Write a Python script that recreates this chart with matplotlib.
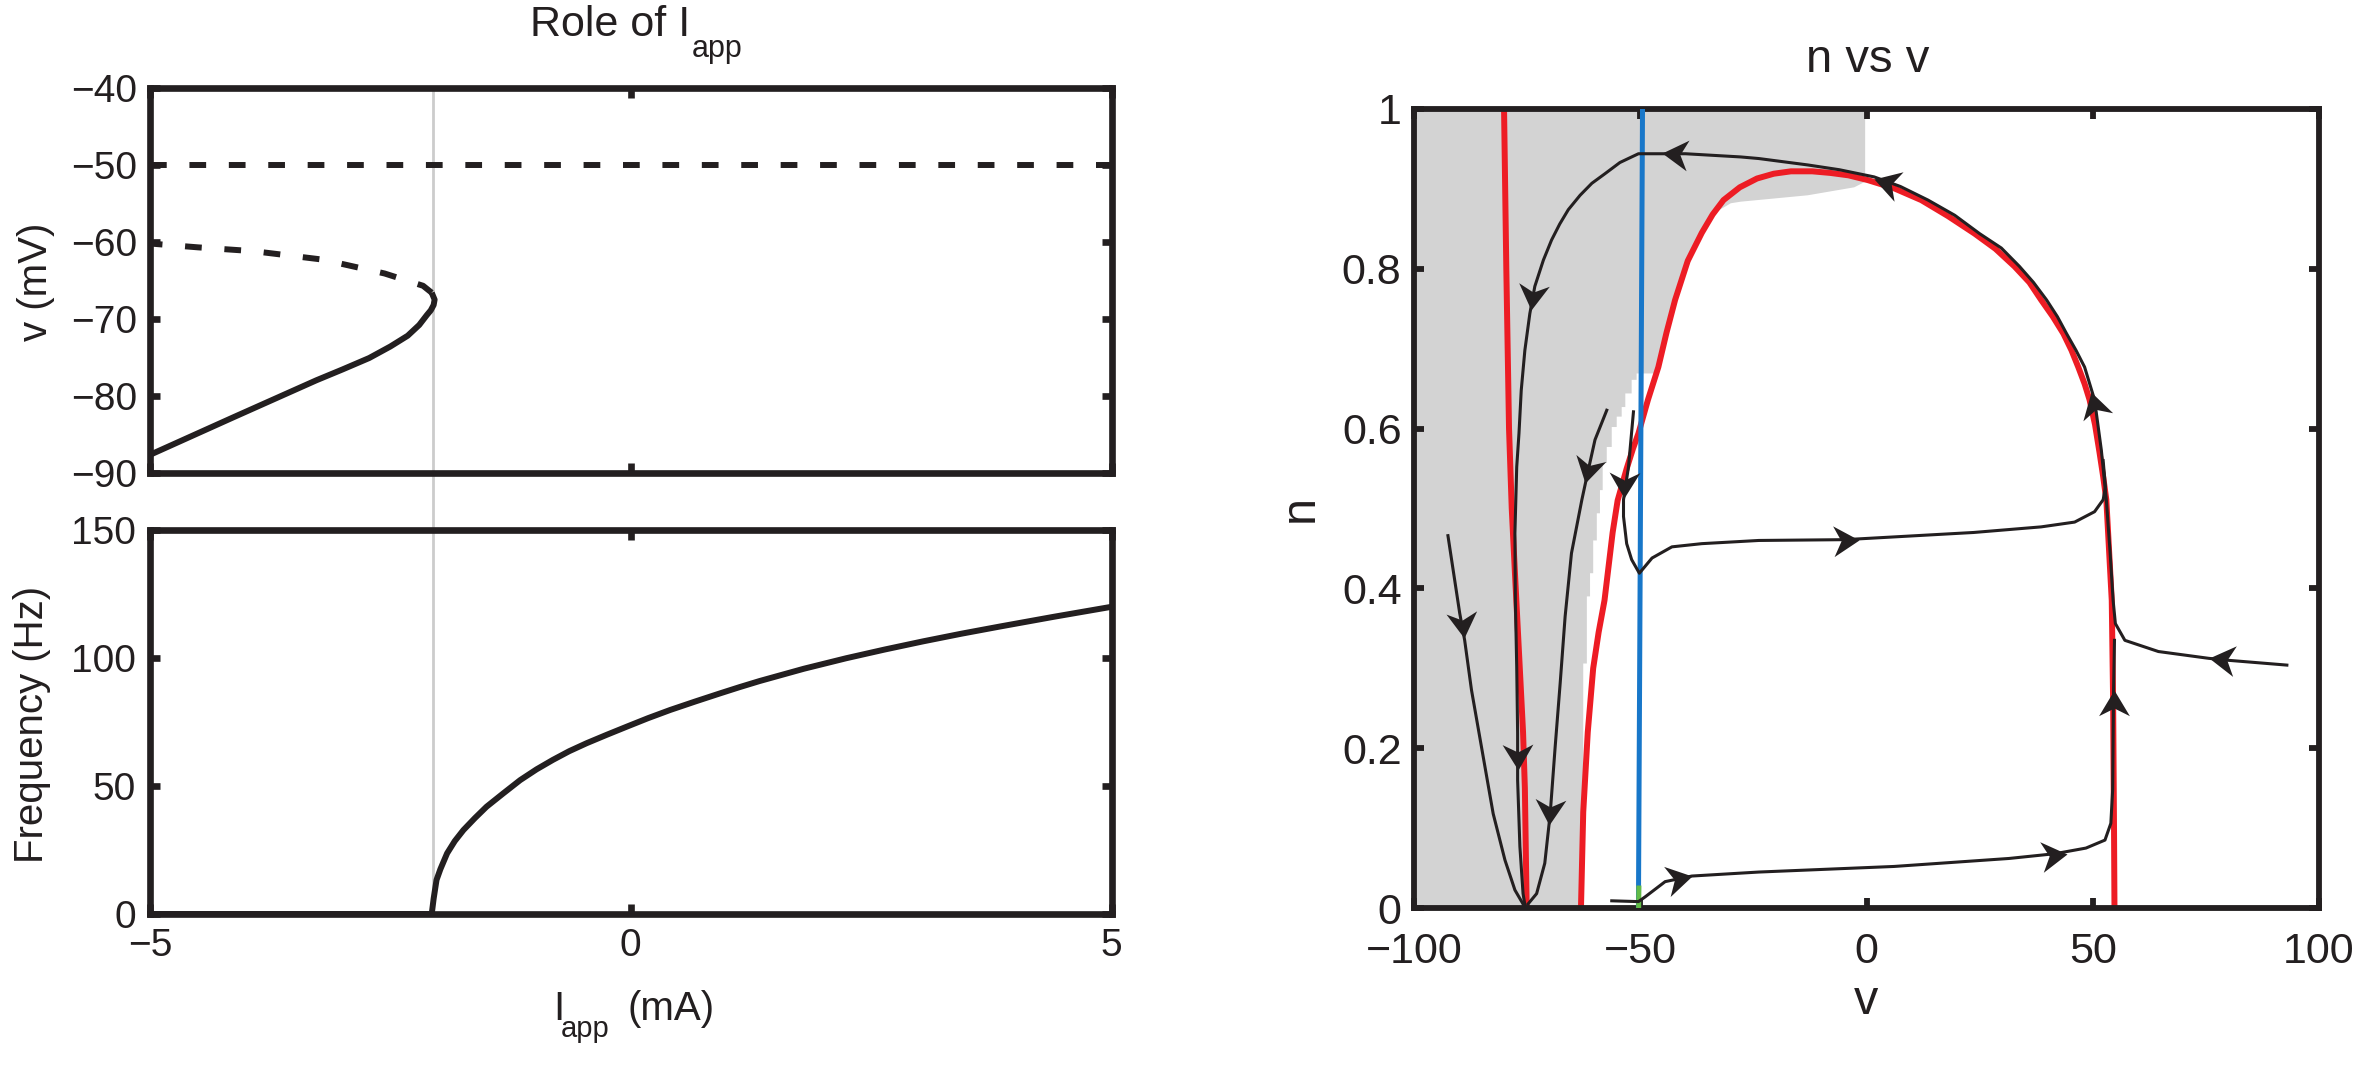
import numpy as np
import matplotlib
matplotlib.use('Agg')
import matplotlib.pyplot as plt
from matplotlib.path import Path
from matplotlib.markers import MarkerStyle
from matplotlib.transforms import Affine2D

plt.rcParams['font.family'] = ['Liberation Sans', 'DejaVu Sans']
plt.rcParams['axes.unicode_minus'] = True

ink = '#231f20'

# ---- left panels: role of I_app ----
i_sn = -2.06  # saddle-node (gray vertical line)

rest_i = [-5, -4.13, -3.27, -3.0, -2.72, -2.5, -2.32, -2.2, -2.12, -2.08, -2.05, -2.04, -2.07]
rest_v = [-87.7, -82.8, -78.0, -76.6, -75.1, -73.6, -72.2, -70.8, -69.5, -68.9, -68.2, -67.5, -66.6]
saddle_i = [-2.07, -2.16, -2.56, -3.2, -3.92, -4.5, -5]
saddle_v = [-66.6, -65.7, -64.1, -62.3, -61.2, -60.7, -60.2]
upper_i = [-5, 5]
upper_v = [-50, -50]

freq_i = [-5, -2.07, -2.05, -2.02, -1.98, -1.91, -1.83, -1.74, -1.62, -1.50, -1.33,
          -1.15, -0.98, -0.81, -0.64, -0.46, -0.25, -0.04, 0.18, 0.41, 0.67, 0.93,
          1.13, 1.34, 1.8, 2.24, 2.64, 3.04, 3.44, 3.84, 4.4, 5.0]
freq_f = [0, 0, 6, 13.3, 17.5, 23.7, 28.5, 32.8, 37.5, 41.9, 47.0,
          52.3, 56.5, 60.2, 63.6, 66.7, 70.0, 73.2, 76.5, 79.7, 83.0, 86.2,
          88.6, 91.0, 95.8, 99.9, 103.3, 106.5, 109.5, 112.3, 116.1, 120.0]

# ---- right panel: n vs v phase plane ----
vnull_left_v = [-80.1, -79.6, -79.0, -78.4, -77.7, -76.8, -75.9, -75.5, -75.1]
vnull_left_n = [1.0, 0.8, 0.6, 0.5, 0.42, 0.32, 0.22, 0.15, 0.0]
vnull_arch_v = [-63.1, -62.6, -61.6, -60.4, -59.2, -57.9, -56.1, -55.0, -53.0, -51.6,
                -50.4, -48.3, -46.0, -44.2, -42.3, -39.5, -36.4, -34.0, -31.6, -28.0,
                -24.2, -20.5, -16.7, -12.0, -8.0, -4.0, 0.3, 6.0, 12.1, 18.0,
                23.9, 28.5, 32.7, 36.0, 38.6, 41.2, 43.5, 45.3, 46.8, 48.2,
                49.3, 50.5, 51.5, 52.3, 53.0, 54.2, 54.5, 54.7, 54.8]
vnull_arch_n = [0.0, 0.12, 0.22, 0.30, 0.345, 0.385, 0.47, 0.51, 0.55, 0.575,
                0.594, 0.636, 0.677, 0.72, 0.761, 0.81, 0.845, 0.868, 0.886, 0.902,
                0.913, 0.919, 0.922, 0.922, 0.92, 0.917, 0.911, 0.901, 0.886, 0.866,
                0.844, 0.825, 0.803, 0.783, 0.761, 0.74, 0.719, 0.698, 0.677, 0.656,
                0.636, 0.605, 0.57, 0.54, 0.511, 0.385, 0.26, 0.1, 0.0]
nnull_v = [-50.4, -49.5]
nnull_n = [0.0, 1.0]
fixed_v = [-50.35, -50.3]
fixed_n = [0.0, 0.025]

basin_v = [-100, -62.6, -62.6, -61.8, -61.8, -61.1, -61.1, -60.4, -60.4, -59.6, -59.6,
           -58.9, -58.9, -58.3, -58.3, -57.4, -57.4, -56.3, -56.3, -55.2, -55.2,
           -54.1, -54.1, -53.3, -53.3, -51.9, -51.9, -50.8, -50.8, -46.4, -46.0,
           -42.3, -36.4, -33.0, -30.0, -27.8, -13.0, -2.7, -0.3, -0.3, -100]
basin_n = [0, 0, 0.306, 0.306, 0.39, 0.39, 0.419, 0.419, 0.46, 0.46, 0.494,
           0.494, 0.523, 0.523, 0.557, 0.557, 0.577, 0.577, 0.602, 0.602, 0.615,
           0.615, 0.627, 0.627, 0.644, 0.644, 0.661, 0.661, 0.669, 0.669, 0.69,
           0.761, 0.845, 0.872, 0.882, 0.884, 0.892, 0.902, 0.909, 1.0, 1.0]

traj_a_v = [92.9, 80.0, 75.6, 64.5, 57.1, 55.0, 54.5, 53.8, 53.0, 51.9, 50.4, 48.2,
            46.3, 44.2, 42.2, 39.8, 36.9, 33.8, 29.8, 25.0, 19.5, 13.6, 7.5, 1.7,
            -6.0, -13.0, -23.8, -27.8, -40.0, -50.4, -51.9, -54.5, -57.8, -60.7,
            -63.3, -65.9, -67.8, -69.6, -71.4, -73.3, -74.4, -75.5, -76.3,
            -76.8, -77.3, -77.7, -77.6, -77.3, -77.1, -77.1, -76.6, -75.9, -75.5]
traj_a_n = [0.304, 0.310, 0.3125, 0.321, 0.335, 0.356, 0.385, 0.448, 0.511, 0.573,
            0.636, 0.677, 0.698, 0.719, 0.74, 0.761, 0.783, 0.803, 0.826, 0.844,
            0.867, 0.886, 0.903, 0.915, 0.924, 0.930, 0.938, 0.940, 0.944, 0.944,
            0.940, 0.933, 0.919, 0.907, 0.892, 0.874, 0.856, 0.836, 0.811, 0.778,
            0.744, 0.698, 0.648, 0.594, 0.552, 0.469, 0.385, 0.302, 0.219, 0.16,
            0.077, 0.018, 0.004]
traj_b_v = [-92.5, -89.9, -88.8, -87.3, -85.1, -82.5, -79.9, -77.7, -75.9]
traj_b_n = [0.466, 0.369, 0.335, 0.273, 0.202, 0.118, 0.06, 0.0225, 0.005]
traj_c_v = [-57.4, -60.0, -61.8, -62.9, -65.2, -66.6, -67.7, -68.8, -69.9, -71.1,
            -72.9, -74.8]
traj_c_n = [0.623, 0.586, 0.540, 0.511, 0.444, 0.365, 0.281, 0.202, 0.118, 0.056,
            0.018, 0.005]
traj_d_v = [-51.5, -52.6, -53.7, -53.7, -53.0, -51.9, -50.2, -47.4, -43.0, -36.4,
            -23.8, -4.8, 23.7, 38.6, 46.0, 50.4, 52.3, 52.8, 52.3]
traj_d_n = [0.621, 0.552, 0.511, 0.49, 0.456, 0.436, 0.419, 0.438, 0.452, 0.456,
            0.460, 0.461, 0.470, 0.477, 0.483, 0.496, 0.511, 0.527, 0.56]
traj_e_v = [-56.3, -50.4, -48.9, -44.5, -38.6, -23.8, 6.1, 31.5, 41.7, 48.5, 52.7,
            54.0, 54.4, 54.6, 54.8]
traj_e_n = [0.009, 0.008, 0.014, 0.033, 0.040, 0.045, 0.052, 0.062, 0.068, 0.075,
            0.085, 0.106, 0.148, 0.273, 0.335]

# arrowheads: tip and a point just behind it on the same trajectory
arrow_tip_v = [75.6, 49.7, 1.7, -45.2, -74.2, -88.9, -77.0, -62.2, -70.1, -53.7,
               -1.7, -38.6, 44.3, 54.8]
arrow_tip_n = [0.313, 0.646, 0.913, 0.945, 0.748, 0.338, 0.173, 0.532, 0.104, 0.513,
               0.461, 0.040, 0.068, 0.273]
arrow_back_v = [81.4, 51.0, 6.9, -39.7, -73.6, -89.4, -77.1, -61.0, -69.8, -53.6,
                -9.0, -44.3, 38.3, 54.8]
arrow_back_n = [0.309, 0.619, 0.904, 0.942, 0.777, 0.365, 0.202, 0.561, 0.133, 0.542,
                0.459, 0.033, 0.064, 0.243]

W, H = 2379, 1065
fig = plt.figure(figsize=(W / 100, H / 100), dpi=100)


def px_axes(x0, y0, x1, y1):
    return fig.add_axes([x0 / W, 1 - y1 / H, (x1 - x0) / W, (y1 - y0) / H])


ax1 = px_axes(150, 88.3, 1111.5, 472.5)
ax2 = px_axes(150, 530, 1111.5, 914)
ax3 = px_axes(1414, 109, 2319, 908)


def style(ax, lw, labsize, pad):
    for s in ax.spines.values():
        s.set_linewidth(lw)
        s.set_color(ink)
    ax.tick_params(direction='in', length=7, width=lw, top=True, right=True,
                   labelsize=labsize, pad=pad, colors=ink)


style(ax1, 4.8, 28, 9)
style(ax2, 4.8, 28, 10)
style(ax3, 4.2, 31, 9)
ax3.tick_params(axis='x', pad=17)

# top left
ax1.plot(rest_i, rest_v, color=ink, lw=4.3, solid_capstyle='butt')
ax1.plot(saddle_i, saddle_v, color=ink, lw=4.3, dashes=(2.8, 3.8))
ax1.plot(upper_i, upper_v, color=ink, lw=4.3, dashes=(2.8, 3.8))
ax1.axvline(i_sn, ymin=-0.16, ymax=1, clip_on=False, color='#cccccc', lw=2, zorder=0.5)
ax1.set_xlim(-5, 5)
ax1.set_ylim(-90, -40)
ax1.set_xticks([-5, 0, 5])
ax1.set_yticks([-90, -80, -70, -60, -50, -40])
ax1.tick_params(labelbottom=False)

# bottom left
ax2.axvline(i_sn, color='#cccccc', lw=2, zorder=0.5)
ax2.plot(freq_i, freq_f, color=ink, lw=4.3, clip_on=False)
ax2.set_xlim(-5, 5)
ax2.set_ylim(0, 150)
ax2.set_xticks([-5, 0, 5])
ax2.set_yticks([0, 50, 100, 150])

# right
ax3.fill(basin_v, basin_n, color='#d3d3d3', lw=0, zorder=1)
ax3.plot(vnull_left_v, vnull_left_n, color='#ed1c24', lw=4.3, zorder=2)
ax3.plot(vnull_arch_v, vnull_arch_n, color='#ed1c24', lw=4.3, zorder=2)
ax3.plot(nnull_v, nnull_n, color='#1877c9', lw=3.6, zorder=3)
ax3.plot(fixed_v, fixed_n, color='#62bb46', lw=3.6, zorder=3)
for tv, tn in [(traj_a_v, traj_a_n), (traj_b_v, traj_b_n), (traj_c_v, traj_c_n),
               (traj_d_v, traj_d_n), (traj_e_v, traj_e_n)]:
    ax3.plot(tv, tn, color=ink, lw=2.2, zorder=4)
ax3.set_xlim(-100, 100)
ax3.set_ylim(0, 1)
ax3.set_xticks([-100, -50, 0, 50, 100])
ax3.set_yticks([0, 0.2, 0.4, 0.6, 0.8, 1])
ax3.set_yticklabels(['0', '0.2', '0.4', '0.6', '0.8', '1'])

head = Path([(0, 0), (-1, 0.6), (-0.7, 0), (-1, -0.6), (0, 0)],
            [Path.MOVETO, Path.LINETO, Path.LINETO, Path.LINETO, Path.CLOSEPOLY])
for tv, tn, bv, bn in zip(arrow_tip_v, arrow_tip_n, arrow_back_v, arrow_back_n):
    p1 = ax3.transData.transform((tv, tn))
    p0 = ax3.transData.transform((bv, bn))
    ang = np.degrees(np.arctan2(p1[1] - p0[1], p1[0] - p0[0]))
    m = MarkerStyle(head, transform=Affine2D().rotate_deg(ang))
    ax3.plot(tv, tn, marker=m, ms=37, color=ink, mec=ink, mew=0, ls='none', zorder=5)


# texts (positions in pixels of the figure)
def ftext(x, y, s, **kw):
    return fig.text(x / W, 1 - y / H, s, color=ink, **kw)


title = ftext(530, 36, 'Role of I', fontsize=31, ha='left', va='baseline')
fig.add_artist(plt.Annotation('app', xy=(1, 0), xycoords=title, xytext=(1, -9),
                              textcoords='offset points', fontsize=22, color=ink,
                              ha='left', va='baseline'))

ftext(553, 1020, 'I', fontsize=29, ha='left', va='baseline')
ftext(561, 1037, 'app', fontsize=21, ha='left', va='baseline')
ftext(627, 1020, '(mA)', fontsize=29, ha='left', va='baseline')
ftext(36, 282, 'v (mV)', fontsize=29, rotation=90, ha='center', va='center')
ftext(32, 724, 'Frequency (Hz)', fontsize=29, rotation=90, ha='center', va='center')

ftext(1868, 72, 'n vs v', fontsize=34, ha='center', va='baseline')
ftext(1866, 1002, 'v', fontsize=35, ha='center', va='center')
ftext(1300, 509, 'n', fontsize=35, rotation=90, ha='center', va='center')

fig.savefig('out.png', dpi=100)
